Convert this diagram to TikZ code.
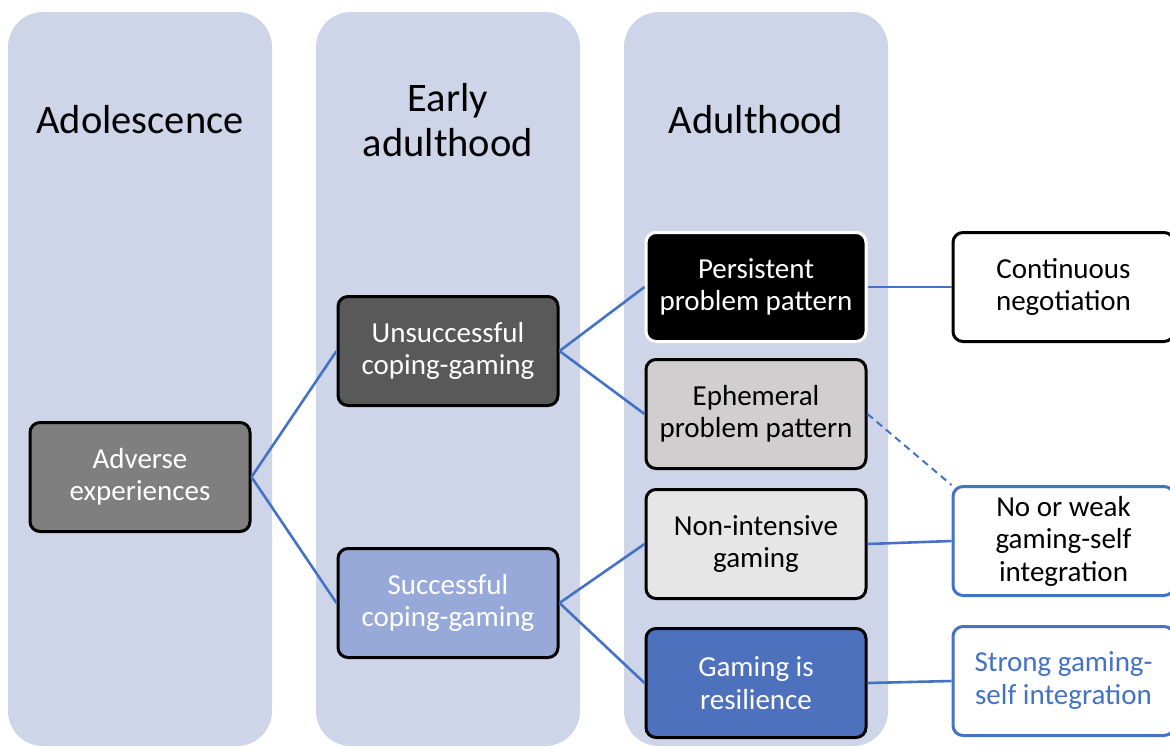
\documentclass[tikz,border=0pt]{standalone}
\usepackage{fontspec}
\setmainfont{Carlito}
\definecolor{colbg}{HTML}{CFD5E8}
\definecolor{adv}{HTML}{7F7F7F}
\definecolor{uns}{HTML}{595959}
\definecolor{suc}{HTML}{97A9D8}
\definecolor{eph}{HTML}{D0CECE}
\definecolor{non}{HTML}{E7E6E6}
\definecolor{res}{HTML}{4E71BE}
\definecolor{lnk}{HTML}{4472C4}
\begin{document}
\begin{tikzpicture}[x=1pt,y=-1pt,
  hdr/.style={align=center,font=\fontsize{40.5}{45}\selectfont,text=black},
  box/.style={draw=black,line width=3pt,rounded corners=10pt,minimum width=220pt,minimum height=109pt,align=center,font=\fontsize{29}{32.5}\selectfont,inner sep=0pt},
  outbox/.style={box,minimum width=221pt,fill=white},
  conn/.style={draw=lnk,line width=2.6pt}]
\useasboundingbox (0,0) rectangle (1170,747);
\fill[colbg,rounded corners=35pt] (8,12) rectangle (272,746);
\fill[colbg,rounded corners=35pt] (316,12) rectangle (580,746);
\fill[colbg,rounded corners=35pt] (624,12) rectangle (888,746);
\node[hdr] (h1) at (140,120) {Adolescence};
\node[hdr] (h2) at (448,120) {Early\\adulthood};
\node[hdr] (h3) at (756,120) {Adulthood};
% boxes
\node[box,fill=adv,text=white] (adv) at (140,477) {Adverse\\experiences};
\node[box,fill=uns,text=white] (uns) at (448,351) {Unsuccessful\\coping-gaming};
\node[box,fill=suc,text=white] (suc) at (448,603) {Successful\\coping-gaming};
\node[box,fill=black,draw=white,text=white] (per) at (756,287) {Persistent\\problem pattern};
\node[box,fill=eph,text=black] (eph) at (756,414) {Ephemeral\\problem pattern};
\node[box,fill=non,text=black] (non) at (756,544) {Non-intensive\\gaming};
\node[box,fill=res,text=white] (res) at (756,683) {Gaming is\\resilience};
\node[outbox,draw=black,text=black] (con) at (1063.5,287) {Continuous\\negotiation};
\node[outbox,draw=lnk,text=black] (weak) at (1063.5,541) {No or weak\\gaming-self\\integration};
\node[outbox,draw=lnk,text=lnk,text depth=6pt] (str) at (1063.5,681) {Strong gaming-\\self integration};
% connectors
\draw[conn] (adv.east) -- (uns.west);
\draw[conn] (adv.east) -- (suc.west);
\draw[conn] (uns.east) -- (per.west);
\draw[conn] (uns.east) -- (eph.west);
\draw[conn] (suc.east) -- (non.west);
\draw[conn] (suc.east) -- (res.west);
\draw[conn] (per.east) -- (con.west);
\draw[conn,dashed,dash pattern=on 7pt off 5pt,line width=2pt] (eph.east) -- (weak.north west);
\draw[conn] (non.east) -- (weak.west);
\draw[conn] (res.east) -- (str.west);
\end{tikzpicture}
\end{document}
